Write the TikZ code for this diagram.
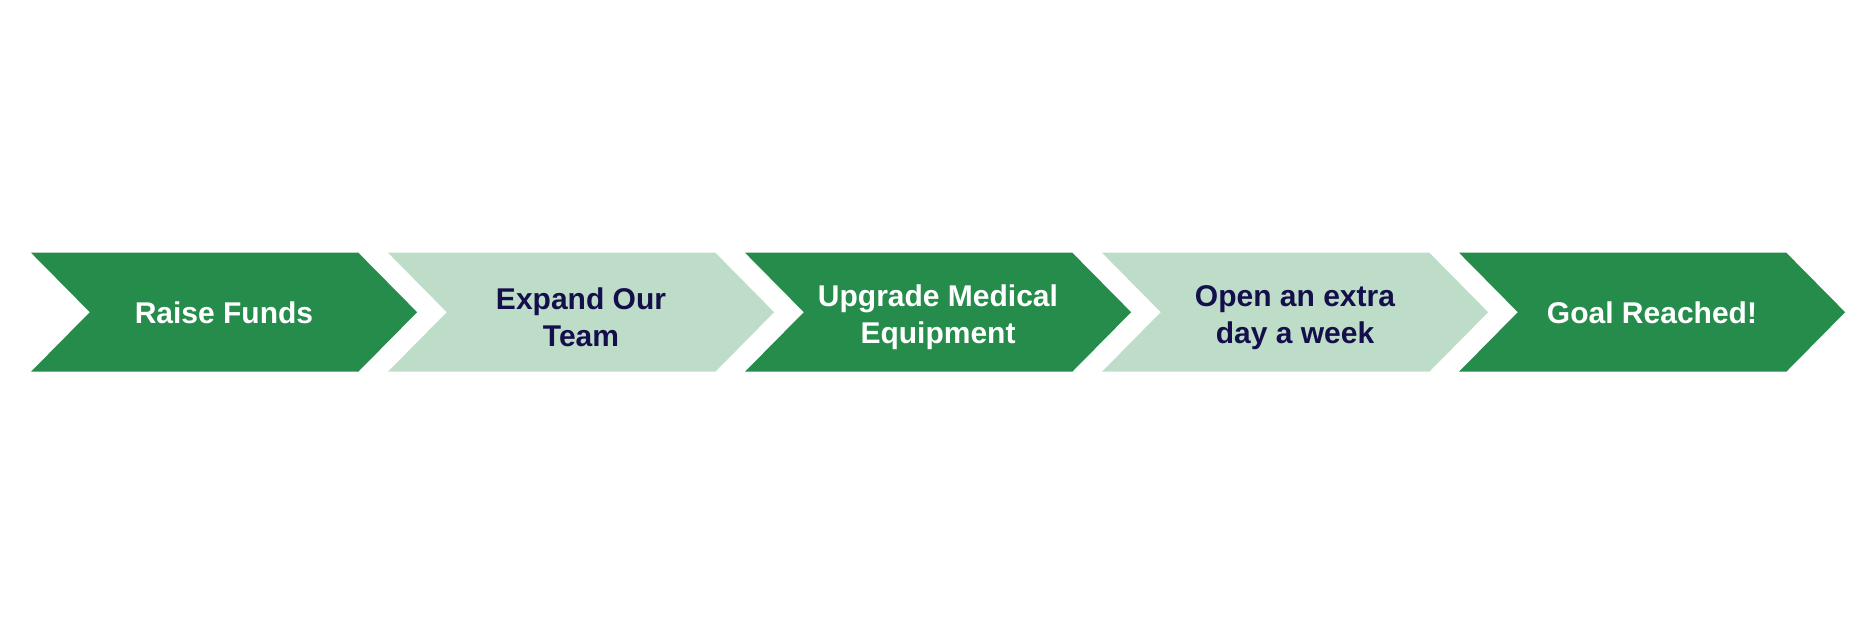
\documentclass[tikz,border=0pt]{standalone}
\usepackage{fontspec}
\setmainfont{Liberation Sans}
\definecolor{darkgreen}{HTML}{268C4C}
\definecolor{lightgreen}{HTML}{BEDDC9}
\definecolor{navy}{HTML}{140F4B}
\newcommand\chevronstep[6]{%
  \fill[#3] (#2,252.7) -- ++(327.3,0) -- ++(58.8,59.5) -- ++(-58.8,59.5)
     -- ++(-327.3,0) -- ++(58.8,-59.5) -- cycle;
  \node[steplabel, text=#4] (#1) at (#2+193,#6) {#5};}
\begin{document}
\begin{tikzpicture}[x=1pt,y=-1pt,
  steplabel/.style={align=center, inner sep=0pt,
    font=\fontsize{30}{37}\selectfont\bfseries}]
\useasboundingbox (0,0) rectangle (1875,625);
\chevronstep{s1}{31}{darkgreen}{white}{Raise Funds}{313}
\chevronstep{s2}{388}{lightgreen}{navy}{Expand Our\\Team}{317.5}
\chevronstep{s3}{745}{darkgreen}{white}{Upgrade Medical\\Equipment}{317.5}
\chevronstep{s4}{1102}{lightgreen}{navy}{Open an extra\\day a week}{317.5}
\chevronstep{s5}{1459}{darkgreen}{white}{Goal Reached!}{313}
\end{tikzpicture}
\end{document}
